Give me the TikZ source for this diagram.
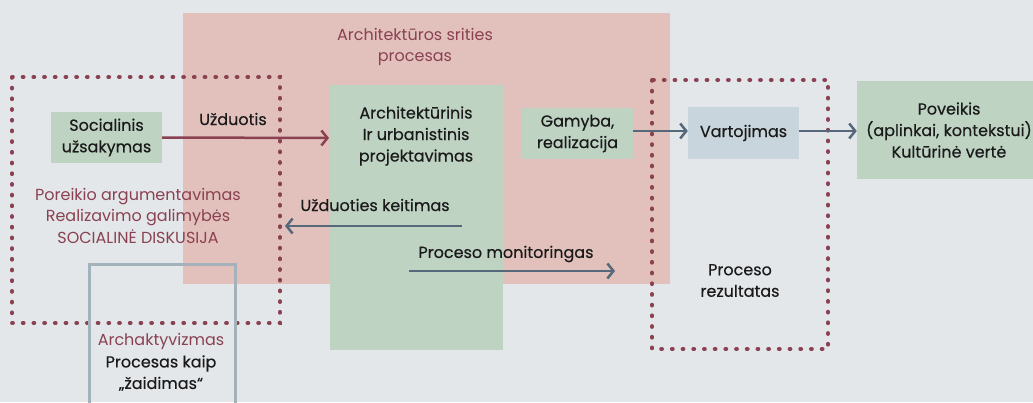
\documentclass[tikz,border=0pt]{standalone}
\usepackage{fontspec}
\setmainfont{Poppins}
\newfontfamily\medfont[FakeBold=0.4]{Poppins}
\usetikzlibrary{arrows.meta}
\definecolor{bgc}{HTML}{E3E7EA}
\definecolor{pinkc}{HTML}{E2C1BC}
\definecolor{greenc}{HTML}{BFD3C3}
\definecolor{vartc}{HTML}{C9D5DC}
\definecolor{maroon}{HTML}{8A4151}
\definecolor{slate}{HTML}{56697A}
\definecolor{grayline}{HTML}{A4B2BC}
\definecolor{txt}{HTML}{1A1A1A}
\tikzset{
  box/.style={fill=#1, inner sep=0pt, draw=none},
  lbl/.style={font=\fontsize{16}{21.5}\selectfont\medfont, text=txt, align=center, inner sep=0pt},
  mlbl/.style={font=\fontsize{16}{21.5}\selectfont, text=maroon, align=center, inner sep=0pt},
  dotbox/.style={draw=maroon, line width=4pt, line cap=round, dash pattern=on 0.8pt off 9.9pt},
  arr/.style={draw=#1, line width=2.5pt, -{Straight Barb[length=6pt,width=15pt,line width=2.5pt]}},
}
\begin{document}
\begin{tikzpicture}[x=1pt,y=-1pt]
\fill[bgc] (0,0) rectangle (1033,402);
\useasboundingbox (0,0) rectangle (1033,402);
% pink area
\fill[pinkc] (183,13) rectangle (670,284);
\node[mlbl] (title) at (415,47) {Architektūros srities\\procesas};
% central green
\fill[greenc] (330,85) rectangle (503,350);
\node[lbl] (arch) at (416,136) {Architektūrinis\\Ir urbanistinis\\projektavimas};
\coordinate (archL) at (329,138);
% dotted boxes
\draw[dotbox] (12,77) rectangle (280,323);
\draw[dotbox] (652,80) rectangle (828,349);
% archaktyvizmas box
\draw[grayline, line width=3pt] (89,410) -- (89,264) -- (235,264) -- (235,410);
\node[mlbl] (archakt) at (161,341) {Archaktyvizmas};
\node[lbl] (zaid) at (161,373) {Procesas kaip\\„žaidimas“};
% left nodes
\node[box=greenc, minimum width=111pt, minimum height=51pt] (soc) at (106.5,137.5) {};
\node[lbl] at (soc) {Socialinis\\užsakymas};
\node[mlbl] (por) at (138,215.5) {Poreikio argumentavimas\\Realizavimo galimybės\\SOCIALINĖ DISKUSIJA};
\node[lbl] (uzd) at (233,119) {Užduotis};
\draw[arr=maroon] (soc.east) -- (archL);
% keitimas
\node[lbl] (keit) at (375,205) {Užduoties keitimas};
\coordinate (keitS) at (462,226);
\coordinate (keitE) at (285,226);
\draw[arr=slate] (keitS) -- (keitE);
% monitoringas
\node[lbl] (mon) at (506,254) {Proceso monitoringas};
\coordinate (monS) at (409,271);
\coordinate (monE) at (615,271);
\draw[arr=slate] (monS) -- (monE);
% gamyba
\node[box=greenc, minimum width=111pt, minimum height=51pt] (gam) at (577.5,133.5) {};
\node[lbl] at (gam) {Gamyba,\\realizacija};
% vartojimas
\node[box=vartc, minimum width=111pt, minimum height=52pt] (vart) at (743.5,133) {};
\node[lbl] at (vart) {Vartojimas};
\draw[arr=slate] (gam.east |- 0,131) -- (vart.west |- 0,131);
% poveikis
\node[box=greenc, minimum width=180pt, minimum height=98pt] (pov) at (947,130) {};
\node[lbl] at (949,130) {Poveikis\\(aplinkai, kontekstui)\\Kultūrinė vertė};
\draw[arr=slate] (vart.east |- 0,131) -- (pov.west |- 0,131);
% rezultatas
\node[lbl] (rez) at (740,280.5) {Proceso\\rezultatas};
\end{tikzpicture}
\end{document}
